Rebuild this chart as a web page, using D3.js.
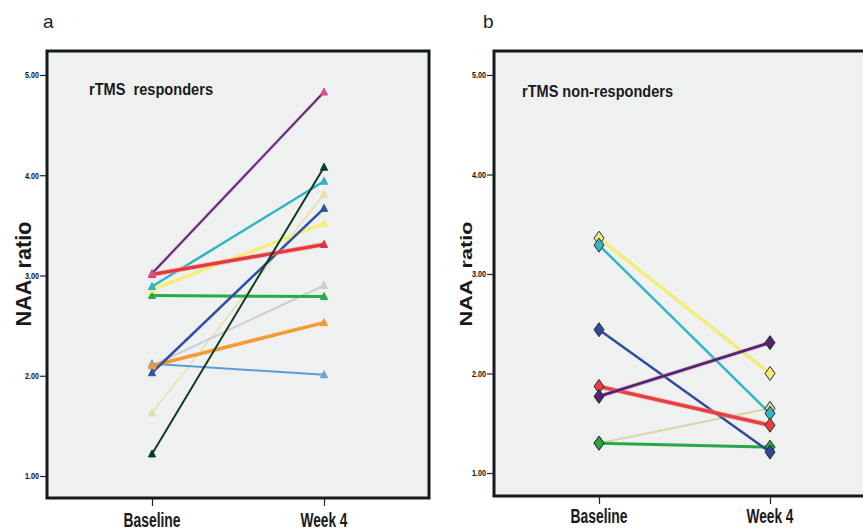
<!DOCTYPE html>
<html>
<head>
<meta charset="utf-8">
<script src="https://cdn.jsdelivr.net/npm/d3@7"></script>
<style>
  body { margin: 0; background: #fff; }
  svg { display: block; font-family: "Liberation Sans", Arial, sans-serif; }
</style>
</head>
<body>
<div id="visual"></div>
<script>
// values
const categories = ["Baseline", "Week 4"];
const yTicks = [1, 2, 3, 4, 5];

// panel a : responders
const respBaseline = [3.02, 1.22, 2.89, 1.63, 2.03, 2.86, 3.01, 2.10, 2.80, 2.10, 2.12];
const respWeek4 = [4.83, 4.08, 3.94, 3.81, 3.67, 3.52, 3.31, 2.90, 2.79, 2.53, 2.01];

// panel b : non-responders
const nonBaseline = [3.36, 3.29, 2.44, 1.87, 1.77, 1.30, 1.30];
const nonWeek4 = [2.00, 1.60, 1.21, 1.48, 2.31, 1.65, 1.26];

// styles
const respColors = ["#5b2a7c", "#0d3b22", "#2fb4c2", "#e4e0aa", "#2c52a6", "#f4ef7c",
  "#e6393b", "#c9ced4", "#2aa84a", "#f69a32", "#5d9bd3"];
const respMarker = ["#d94f8f", "#0d3b22", "#2fb4c2", "#e4e0aa", "#2c52a6", "#f4ef7c",
  "#d8334a", "#c9ced4", "#2aa84a", "#f69a32", "#6aa2d8"];
const respWidth = [2, 2, 2.5, 1.5, 2.5, 3.5, 3.5, 2, 3, 3.5, 2];
const respHalo = ["#e6a0c0", null, null, null, null, null, "#f3a3a6", null, null, null, null];
const respOrder = [3, 7, 10, 9, 8, 5, 2, 4, 6, 0, 1];

const nonColors = ["#f2ec7a", "#35b4c4", "#2e4a9e", "#e64040", "#53246f", "#d9d4a2", "#2aa845"];
const nonWidth = [3.5, 2.5, 2.5, 3.5, 3, 2, 3];
const nonHalo = [null, null, null, "#f3a3a6", "#e6a0c0", null, null];

const w = 863;
const h = 531;

const svgC = d3.select("#visual").
  append("svg").
  attr("width", w).
  attr("height", h);

function drawPanel(p) {
  const g = svgC.append("g");

  const xScale = d3.scalePoint().
    domain(categories).
    range([p.x0, p.x1]);

  const yScale = d3.scaleLinear().
    domain([1, 5]).
    range([p.y1, p.y5]);

  // plot background + frame
  g.append("rect").
    attr("x", p.left).
    attr("y", p.top).
    attr("width", p.right - p.left).
    attr("height", p.bottom - p.top).
    attr("fill", "#eff0f0").
    attr("stroke", "#151a1a").
    attr("stroke-width", 3);

  // y axis
  const yAxis = d3.axisLeft(yScale).
    tickValues(yTicks).
    tickFormat(d3.format(".2f")).
    tickSize(6).
    tickPadding(1);

  const ya = g.append("g").
    attr("transform", "translate(" + (p.left - 1) + ",0)").
    call(yAxis);
  ya.select(".domain").remove();
  ya.selectAll("line").attr("stroke", "#222").attr("stroke-width", 1.2);
  ya.selectAll("text").
    attr("font-size", 9).
    attr("font-weight", "bold").
    attr("fill", "#111").
    attr("textLength", 14).
    attr("lengthAdjust", "spacingAndGlyphs");

  // x axis
  const xAxis = d3.axisBottom(xScale).tickSize(7).tickFormat("");
  const xa = g.append("g").
    attr("transform", "translate(0," + (p.bottom + 1) + ")").
    call(xAxis);
  xa.select(".domain").remove();
  xa.selectAll("line").attr("stroke", "#222").attr("stroke-width", 1.2);

  g.selectAll(".xlab").
    data(categories).
    enter().
    append("text").
    attr("class", "xlab").
    attr("x", (d) => xScale(d)).
    attr("y", p.labY).
    attr("text-anchor", "middle").
    attr("font-size", 20).
    attr("font-weight", "bold").
    attr("fill", "#1a1a1a").
    attr("textLength", (d, i) => i == 0 ? 57 : 47).
    attr("lengthAdjust", "spacingAndGlyphs").
    text((d) => d);

  // y title
  g.append("text").
    attr("transform", "translate(" + p.yTitleX + "," + p.yTitleY + ") rotate(-90)").
    attr("text-anchor", "middle").
    attr("font-size", p.yTitleSize).
    attr("font-weight", "bold").
    attr("fill", "#1a1a1a").
    style("white-space", "pre").
    attr("textLength", p.yTitleLen).
    attr("lengthAdjust", "spacingAndGlyphs").
    text("NAA  ratio");

  // panel title
  g.append("text").
    attr("x", p.titleX).
    attr("y", p.titleY).
    attr("font-size", 16).
    attr("font-weight", "bold").
    attr("fill", "#1a1a1a").
    style("white-space", "pre").
    attr("textLength", p.titleLen).
    attr("lengthAdjust", "spacingAndGlyphs").
    text(p.title);

  // panel letter
  svgC.append("text").
    attr("x", p.letterX).
    attr("y", 28).
    attr("font-size", 19).
    attr("fill", "#222").
    text(p.letter);

  const lines = g.append("g");
  const marks = g.append("g");

  p.order.forEach(function (i) {
    const pts = [[categories[0], p.base[i]], [categories[1], p.week[i]]];
    if (p.halos[i]) {
      lines.append("line").
        attr("x1", xScale(pts[0][0])).
        attr("y1", yScale(pts[0][1])).
        attr("x2", xScale(pts[1][0])).
        attr("y2", yScale(pts[1][1])).
        attr("stroke", p.halos[i]).
        attr("stroke-opacity", 0.4).
        attr("stroke-width", p.widths[i] + 2);
    }
    lines.append("line").
      attr("x1", xScale(pts[0][0])).
      attr("y1", yScale(pts[0][1])).
      attr("x2", xScale(pts[1][0])).
      attr("y2", yScale(pts[1][1])).
      attr("stroke", p.colors[i]).
      attr("stroke-width", p.widths[i]).
      attr("stroke-linecap", "round");

    pts.forEach(function (d) {
      marks.append("path").
        attr("transform", "translate(" + xScale(d[0]) + "," + yScale(d[1]) + ")").
        attr("d", p.symbol).
        attr("fill", p.markColors[i]).
        attr("stroke", p.markStroke || p.markColors[i]).
        attr("stroke-width", 1);
    });
  });
}

// small triangle
const tri = "M0,-4L3.6,3L-3.6,3Z";
// tall diamond
const diamond = "M0,-7L5,0L0,7L-5,0Z";

drawPanel({
  left: 47, right: 429, top: 51, bottom: 498,
  x0: 152, x1: 324, y1: 476, y5: 75,
  labY: 527,
  yTitleX: 31, yTitleY: 274, yTitleSize: 22, yTitleLen: 105,
  titleX: 89, titleY: 95, titleLen: 124, title: "rTMS  responders",
  letter: "a", letterX: 43,
  base: respBaseline, week: respWeek4,
  colors: respColors, markColors: respMarker, widths: respWidth, halos: respHalo,
  order: respOrder, symbol: tri
});

drawPanel({
  left: 494, right: 868, top: 51, bottom: 496,
  x0: 599, x1: 770, y1: 473, y5: 75,
  labY: 523,
  yTitleX: 472, yTitleY: 274, yTitleSize: 17, yTitleLen: 105,
  titleX: 522, titleY: 97, titleLen: 151, title: "rTMS non-responders",
  letter: "b", letterX: 483,
  base: nonBaseline, week: nonWeek4,
  colors: nonColors, markColors: nonColors, widths: nonWidth, halos: nonHalo,
  order: [5, 6, 0, 1, 2, 3, 4], symbol: diamond, markStroke: "#2a2a2a"
});
</script>
</body>
</html>
